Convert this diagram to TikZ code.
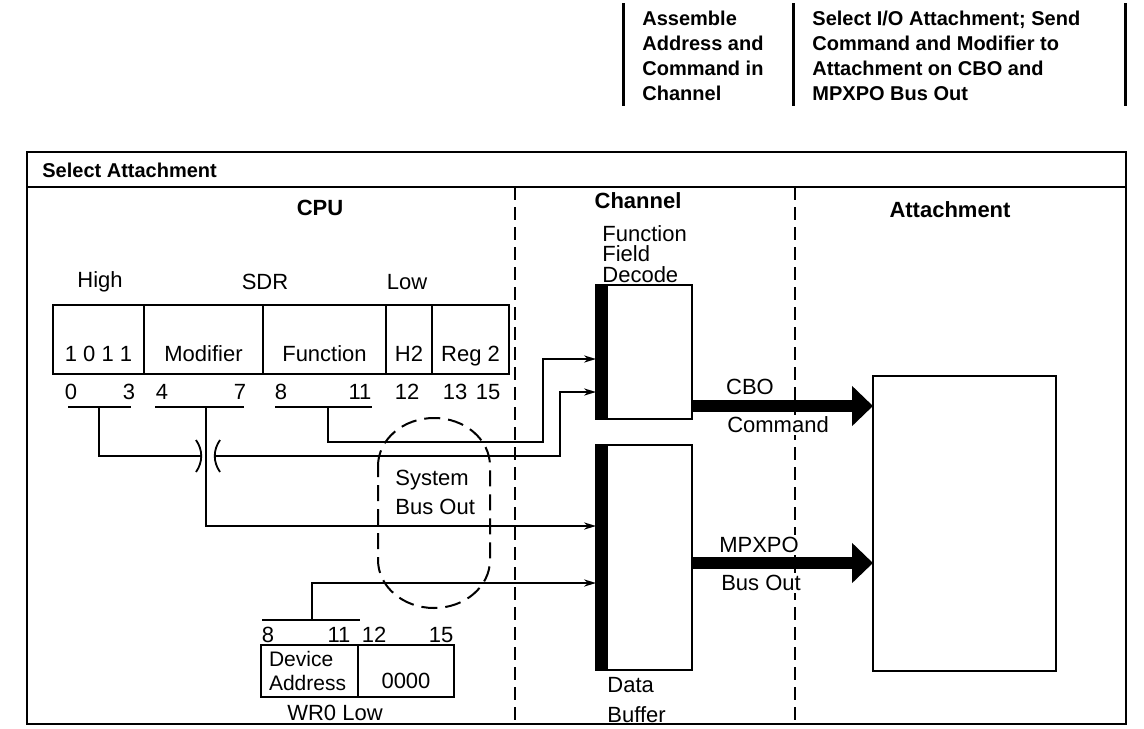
\documentclass[tikz,border=0pt]{standalone}
\usepackage{fontspec}
\setmainfont{Liberation Sans}
\usetikzlibrary{positioning, arrows.meta}
\tikzstyle{hdtext} = [font=\bfseries\fontsize{10}{12.5}\selectfont, inner sep=0pt, anchor=north west, align=left]
\tikzstyle{colhead} = [font=\bfseries\fontsize{11}{13}\selectfont, inner sep=0pt]
\tikzstyle{lbl} = [font=\fontsize{11}{13}\selectfont, inner sep=0pt]
\tikzstyle{regfield} = [draw, line width=1.1pt, inner xsep=0pt, inner ysep=0pt, outer sep=0pt, text height=28pt, text depth=6.5pt, font=\fontsize{11}{13}\selectfont]
\tikzstyle{chanbox} = [draw, line width=1.1pt, inner sep=0pt, outer sep=0pt]
\tikzstyle{wire} = [line width=0.9pt]
\tikzstyle{feed} = [wire, -{Stealth[length=6pt,width=3.6pt]}]
\tikzstyle{busarrow} = [line width=6pt, -{Triangle[length=10.5pt,width=19.5pt]}]
\tikzstyle{sectline} = [line width=1pt, dash pattern=on 6.5pt off 3.5pt]
\tikzstyle{bubble} = [line width=1pt, dash pattern=on 8pt off 4pt]
\tikzstyle{hbar} = [line width=1.5pt]
\begin{document}
\begin{tikzpicture}[x=0.5pt, y=-0.5pt]
\useasboundingbox (0,0) rectangle (1144,728);
% column headings
\foreach \x in {623,793,1125} \draw[hbar] (\x,3) -- (\x,106);
\node(hdasm) [hdtext] at (642,11) {Assemble\\Address and\\Command in\\Channel};
\node(hdsel) [hdtext] at (812,11) {Select I/O Attachment; Send\\Command and Modifier to\\Attachment on CBO and\\MPXPO Bus Out};
%----------------------------------------------------%
\draw[line width=1.4pt] (27,152) rectangle (1126,724);
\draw[line width=1.2pt] (27,187) -- (1126,187);
\node(selatt) [hdtext, anchor=west] at (42,170) {Select Attachment};
\draw[sectline] (515,187) -- (515,724);
\draw[sectline] (795,187) -- (795,724);
\node(cpu) [colhead] at (320,208) {CPU};
\node(chan) [colhead] at (638,201) {Channel};
\node(attach) [colhead] at (950,210) {Attachment};
%----------------------------------------------------%
\node(high) [lbl] at (100,282) {High};
\node(sdr) [lbl] at (265,282) {SDR};
\node(low) [lbl] at (407,282) {Low};
\node(fhigh) [regfield, minimum width=45.5pt, anchor=west] at (53,339.5) {1 0 1 1};
\node(fmod) [regfield, minimum width=59.5pt, right=0pt of fhigh] {Modifier};
\node(ffunc) [regfield, minimum width=61.5pt, right=0pt of fmod] {Function};
\node(fh2) [regfield, minimum width=23pt, right=0pt of ffunc] {H2};
\node(freg) [regfield, minimum width=38.5pt, right=0pt of fh2] {Reg 2};
\foreach \x/\n in {71/0, 129/3, 162/4, 240/7, 281/8, 360/11, 407/12, 455/13, 488/15}
	\node(sb\n) [lbl] at (\x,392) {\n};
\foreach \a/\b in {68/131, 155/244, 275/372} \draw[line width=1.1pt] (\a,407) -- (\b,407);
\coordinate (u03) at (99,407);
\coordinate (u47) at (206,407);
\coordinate (u811) at (328,407);
%----------------------------------------------------%
\node(wdev) [chanbox, anchor=north west, minimum height=26pt, text width=40.5pt, inner xsep=4pt, align=left, font=\fontsize{10.5}{12}\selectfont] at (261,645) {Device\\Address};
\node(wzero) [chanbox, lbl, minimum width=48pt, text height=21.75pt, text depth=4.25pt, right=0pt of wdev] {0000};
\node(wrlow) [lbl] at (335,713) {WR0 Low};
\foreach \x/\n in {268/8, 339/11, 374/12, 441/15}
	\node(wb\n) [lbl] at (\x,635) {\n};
\draw[line width=1.1pt] (262,620) -- (360,620);
\coordinate (uwr) at (312,620);
%----------------------------------------------------%
\node(fdec) [lbl, anchor=north west, align=left, font=\fontsize{11}{10.25}\selectfont] at (602,225) {Function\\Field\\Decode};
\node(decode) [chanbox, minimum width=48pt, minimum height=67pt] at (644,352) {};
\fill (decode.north west) rectangle ([xshift=6pt]decode.south west);
\node(buffer) [chanbox, minimum width=48pt, minimum height=112.5pt] at (644,557.5) {};
\fill (buffer.north west) rectangle ([xshift=6pt]buffer.south west);
\node(dbuf) [lbl, anchor=north west, align=left, font=\fontsize{11}{15}\selectfont] at (607,677) {Data\\Buffer};
\node(att) [chanbox, minimum width=91.5pt, minimum height=147.5pt] at (964.5,523.5) {};
\node(cbo) [lbl] at (750,387) {CBO};
\node(cmd) [lbl, fill=white, inner sep=1pt] at (778,425) {Command};
\node(mpx) [lbl, fill=white, inner sep=1pt] at (759,545) {MPXPO};
\node(busout) [lbl, fill=white, inner sep=1pt] at (761,583) {Bus Out};
%----------------------------------------------------%
\coordinate (fnbend) at (543,442);
\coordinate (hibend) at (560,456);
\coordinate (xover) at (206,456);
\draw[feed] (u811) |- (fnbend) |- ([yshift=-3.5pt]decode.west);
\draw[wire] (u03) |- ([xshift=-2.5pt]xover);
\draw[wire] ([shift={(-10,-16)}]xover) .. controls +(7,10) and +(7,-10) .. ([shift={(-10,16)}]xover);
\draw[wire] ([shift={(14,-16)}]xover) .. controls +(-7,10) and +(-7,-10) .. ([shift={(14,16)}]xover);
\draw[feed] ([xshift=4.5pt]xover) -- (hibend) |- ([yshift=-20pt]decode.west);
\draw[feed] (u47) |- ([yshift=15.75pt]buffer.west);
\draw[feed] (uwr) |- ([yshift=-12.75pt]buffer.west);
\coordinate (cboout) at ([yshift=-27pt]decode.east);
\coordinate (mpxout) at ([yshift=-2.75pt]buffer.east);
\draw[busarrow] (cboout) -- (cboout -| att.west);
\draw[busarrow] (mpxout) -- (mpxout -| att.west);
% system bus
\draw[bubble] (378,466) arc[start angle=180, end angle=0, x radius=28pt, y radius=24pt] -- (490,560) arc[start angle=0, end angle=-180, x radius=28pt, y radius=24pt] -- cycle;
\node(sysbus) [lbl, anchor=north west, align=left, font=\fontsize{11}{14.5}\selectfont] at (395,470) {System\\Bus Out};
\end{tikzpicture}
\end{document}
